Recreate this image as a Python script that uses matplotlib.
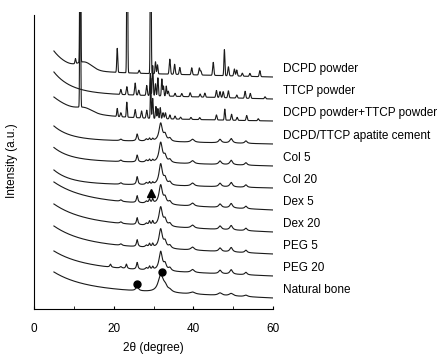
import numpy as np
import matplotlib.pyplot as plt

plt.rcParams['font.family'] = ['Liberation Sans', 'DejaVu Sans']

# sample names, top to bottom
samples = ['DCPD powder', 'TTCP powder', 'DCPD powder+TTCP powder',
           'DCPD/TTCP apatite cement', 'Col 5', 'Col 20', 'Dex 5', 'Dex 20',
           'PEG 5', 'PEG 20', 'Natural bone']
# vertical offset of each trace at 2theta = 60 (a.u.)
offsets = [232, 210, 188, 165, 143, 121, 99, 77, 55, 33, 11]
# background: exponential rise at low angle (amp, decay) + linear slope
bg_amp = [20, 21, 20, 13.5, 12.5, 13, 18, 18, 18, 16, 16]
bg_decay = [4, 4.3, 6.5, 4, 4, 4, 7, 7, 7, 7, 7]
bg_slope = [6, 6, 4, 4.5, 6, 5, 10, 10, 10, 9, 10]

# peak lists for the powders: (2theta, height, width)
dcpd_peaks = [(10.4, 5, 0.12), (11.6, 260, 0.1), (12.8, 7, 1.8), (20.9, 24, 0.12),
              (23.4, 260, 0.1), (26.4, 3, 0.15), (29.3, 260, 0.1), (30.5, 12, 0.12),
              (31.0, 9, 0.12), (34.1, 15, 0.15), (35.3, 10, 0.15), (36.6, 7, 0.15),
              (39.6, 7, 0.15), (41.5, 7, 0.15), (41.9, 4, 0.15), (45.0, 13, 0.15),
              (47.8, 26, 0.12), (48.8, 9, 0.15), (50.3, 7, 0.15), (50.9, 6, 0.15),
              (52.3, 3, 0.15), (54.2, 3, 0.15), (56.7, 6, 0.15)]
ttcp_peaks = [(21.8, 5, 0.15), (23.3, 8, 0.15), (25.4, 12, 0.15), (26.3, 5, 0.15),
              (28.3, 10, 0.15), (29.2, 22, 0.12), (29.8, 30, 0.12), (30.5, 12, 0.12),
              (31.1, 18, 0.12), (32.1, 17, 0.12), (32.5, 10, 0.12), (33.2, 10, 0.12),
              (33.7, 5, 0.15), (35.4, 3, 0.15), (37.1, 3, 0.15), (39.2, 4, 0.15),
              (41.7, 3, 0.15), (42.9, 4, 0.15), (45.8, 7, 0.15), (46.7, 6, 0.15),
              (47.5, 6, 0.15), (48.8, 7, 0.15), (50.9, 3, 0.15), (53.0, 7, 0.15),
              (54.3, 5, 0.15), (58.0, 2, 0.15)]
mix_peaks = [(11.6, 260, 0.1), (12.8, 4, 1.8), (20.9, 8, 0.12), (21.8, 4, 0.15),
             (23.3, 15, 0.12), (25.4, 8, 0.15), (27.0, 7, 0.15), (28.3, 8, 0.15),
             (29.3, 40, 0.1), (29.8, 20, 0.12), (30.6, 12, 0.12), (31.1, 10, 0.12),
             (31.7, 11, 0.12), (32.4, 6, 0.15), (33.0, 6, 0.15), (34.1, 4, 0.15),
             (35.4, 3, 0.15), (36.8, 2, 0.15), (39.4, 2, 0.15), (41.6, 2, 0.15),
             (45.8, 5, 0.15), (47.9, 11, 0.12), (49.6, 6, 0.15), (51.0, 3, 0.15),
             (53.4, 5, 0.15), (56.3, 2, 0.15)]

# apatite reflections shared by cement / composites / bone
apatite_pos = [19.2, 21.8, 23.2, 25.9, 28.2, 29.0, 29.8, 31.8, 32.9, 34.1, 39.8, 46.7, 49.5, 53.2]
apatite_hw = [0.2, 0.3, 0.2, 0.22, 0.3, 0.2, 0.2, 0.5, 0.4, 0.4, 0.5, 0.4, 0.4, 0.35]
apatite_h = {
    'DCPD/TTCP apatite cement': [0, 1.5, 0, 7, 2, 2.5, 2, 18, 6, 3, 3, 3.5, 4.5, 2.5],
    'Col 5':  [0, 1.5, 0, 7, 2, 2.5, 2, 20, 6, 3, 3, 3.5, 4.5, 2.5],
    'Col 20': [0, 1.5, 0, 8, 2, 2.5, 2, 21, 6, 3, 3, 3.5, 4.5, 2.5],
    'Dex 5':  [0, 1.5, 0, 7, 2, 4, 4, 19, 6, 3, 3, 3.5, 4.5, 2.5],
    'Dex 20': [0, 1.5, 0, 7, 2, 4, 4, 19, 6, 3, 3, 3.5, 4.5, 2.5],
    'PEG 5':  [0, 1.5, 0, 7, 2, 3.5, 3.5, 19, 6, 3, 3, 3.5, 4.5, 2.5],
    'PEG 20': [3, 1.5, 4.5, 7, 2, 3.5, 3, 19, 6, 3, 3, 3.5, 4.5, 2.5],
    'Natural bone': [0, 0, 0, 5, 0, 0, 0, 17, 5, 2, 2, 2.5, 2.5, 1.5],
}

# marked reflections
tri_x, tri_y = [29.3], [116]
dot_x, dot_y = [32.1, 25.8], [37, 25]

tt = np.arange(5, 60.001, 0.02)


def lorentz(x, peaks):
    out = np.zeros_like(x)
    for pos, h, w in peaks:
        out += h * w**2 / ((x - pos)**2 + w**2)
    return out


def gauss(x, peaks):
    out = np.zeros_like(x)
    for pos, h, w in peaks:
        out += h * np.exp(-0.5 * ((x - pos) / w)**2)
    return out


fig = plt.figure(figsize=(4.46, 3.56), dpi=100)
ax = fig.add_axes([34 / 446, 47 / 356, 239 / 446, 297 / 356])

for i, name in enumerate(samples):
    bg = bg_amp[i] * np.exp(-(tt - 5) / bg_decay[i]) + bg_slope[i] * (60 - tt) / 55
    if name == 'DCPD powder':
        sig = gauss(tt, dcpd_peaks)
    elif name == 'TTCP powder':
        sig = gauss(tt, ttcp_peaks)
    elif name == 'DCPD powder+TTCP powder':
        sig = gauss(tt, mix_peaks)
    else:
        peaks = list(zip(apatite_pos, apatite_h[name], apatite_hw))
        if name == 'Natural bone':
            peaks = [(p, h, w * 1.5) for p, h, w in peaks]
        sig = lorentz(tt, peaks)
    ax.plot(tt, offsets[i] + bg + sig, color='#1a1a1a', lw=0.8)
    ax.text(62.5, offsets[i] + 8, name, fontsize=8.5, va='center', ha='left',
            clip_on=False)

ax.plot(tri_x, tri_y, '^', color='black', ms=5.5)
ax.plot(dot_x, dot_y, 'o', color='black', ms=5)

ax.set_xlim(0, 60)
ax.set_ylim(0, 297)
ax.set_xticks([0, 20, 40, 60])
ax.set_xticks([10, 30, 50], minor=True)
ax.tick_params(axis='x', which='both', direction='in', length=2.5, labelsize=8.5,
               pad=10)
ax.set_yticks([])
ax.spines['top'].set_visible(False)
ax.spines['right'].set_visible(False)
ax.spines['left'].set_bounds(0, 294)
ax.set_xlabel('2θ (degree)', fontsize=8.5, labelpad=5)
ax.set_ylabel('Intensity (a.u.)', fontsize=8.5)
ax.yaxis.set_label_coords(-0.065, 0.5)

fig.savefig('out.png', dpi=100)
